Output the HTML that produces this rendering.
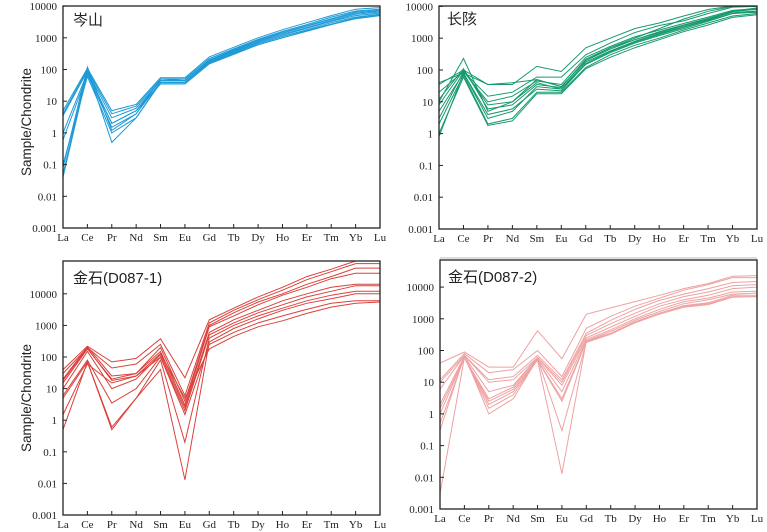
<!DOCTYPE html>
<html><head><meta charset="utf-8">
<style>
html,body{margin:0;padding:0;background:#fff;}
svg{display:block;}
text{font-family:"Liberation Serif","Noto Serif CJK SC",serif;fill:#222;}
.cn{font-family:"Liberation Sans","Noto Sans CJK SC",sans-serif;}
</style></head>
<body>
<svg id="chart" width="767" height="532" viewBox="0 0 767 532"></svg>
<script>
const categories = ["La","Ce","Pr","Nd","Sm","Eu","Gd","Tb","Dy","Ho","Er","Tm","Yb","Lu"];
const tickLabels = ["0.001","0.01","0.1","1","10","100","1000","10000"];
const tickValues = [0.001,0.01,0.1,1,10,100,1000,10000];
const titles = ["岑山","长陔","金石(D087-1)","金石(D087-2)"];

const cenSeries = [
[5,110,5,8,55,55,250,500,1000,1800,3000,5000,8000,9000],
[4,100,4,7,50,50,220,450,900,1600,2600,4500,7000,8000],
[3.5,90,3,6,45,45,200,400,800,1400,2300,3800,6000,7000],
[1,80,2,5,45,45,190,380,750,1300,2100,3500,5500,6500],
[0.6,70,1.5,4,40,40,180,360,700,1200,2000,3300,5000,6000],
[0.1,60,1,3,40,40,170,340,650,1100,1800,3000,4500,5500],
[0.05,100,0.5,3,38,38,160,320,600,1000,1700,2700,4200,5200],
[0.04,80,2,5,35,35,150,300,600,1000,1600,2600,4000,5000],
[0.08,120,1.2,4,50,45,200,420,850,1500,2400,4000,6500,7500]
];
const changSeries = [
[35,100,35,40,50,30,200,500,1000,2000,4000,7000,10000,12000],
[40,80,35,35,130,90,500,1000,2000,3000,5000,8000,12000,12000],
[20,90,15,20,60,60,300,700,1500,2500,3500,6000,9500,10000],
[10,230,5,10,50,30,200,450,900,1600,2600,4200,7000,8000],
[8,100,8,10,40,25,180,400,800,1400,2300,3800,6500,7000],
[5,80,3,5,30,25,150,350,700,1200,2000,3400,6000,6500],
[2,70,2,3,20,20,120,300,600,1000,1800,3000,5000,6000],
[1,60,1.8,2.5,18,18,110,250,500,900,1600,2600,4500,5500],
[0.8,80,4,6,25,22,160,380,750,1300,2200,3600,6000,7000],
[12,110,6,8,35,28,220,500,900,1500,2500,4000,7000,9000],
[3,90,10,15,45,35,250,550,1100,1800,2900,4600,7500,8500]
];
const jin1Series = [
[40,220,70,90,380,22,1500,3500,8000,16000,35000,60000,110000,110000],
[30,200,45,60,250,6,1200,3000,6500,13000,28000,50000,90000,90000],
[20,210,25,30,200,4,1000,2500,5500,10000,20000,35000,65000,65000],
[15,180,20,30,150,3,900,2000,4500,9000,16000,30000,45000,45000],
[10,150,10,20,120,2.5,600,1500,3000,6000,10000,16000,20000,20000],
[6,80,3.5,10,100,2,500,1200,2500,4500,8000,12000,18000,18000],
[5,70,0.6,5,80,0.2,400,1000,2000,3500,6000,9000,12000,12000],
[0.5,70,0.5,5,40,0.013,300,800,1600,3000,5000,7000,10000,10000],
[1.5,60,15,25,100,1.5,250,600,1200,2000,3200,5000,6000,6000],
[18,190,18,25,130,5,180,450,900,1400,2400,3800,5000,5500]
];
const jin2Series = [
[40,90,30,30,420,55,1400,2200,3500,5500,9000,13000,22000,23000],
[12,80,20,25,100,15,500,1200,2500,4500,8000,12000,20000,20000],
[10,70,12,15,70,12,350,900,2000,3800,6000,9000,14000,15000],
[6,70,10,12,60,10,300,700,1500,3000,5000,7000,11000,12000],
[2,65,5,8,60,8,250,550,1200,2500,4000,5500,9000,10000],
[1.5,60,3,7,55,5,220,450,1000,2000,3500,4500,7000,7500],
[1,60,2.5,6,50,3,200,400,900,1700,3000,4000,6000,6500],
[0.5,60,2,5,50,2.5,190,350,800,1500,2500,3000,5000,5000],
[0.3,70,1,3,55,0.3,180,330,750,1400,2300,2800,4800,5000],
[0.003,60,1.5,4,50,0.013,200,350,800,1500,2600,3200,5500,5500]
];

const NS="http://www.w3.org/2000/svg";
const svg=document.getElementById('chart');
function mk(tag,attrs,parent){const e=document.createElementNS(NS,tag);for(const k in attrs)e.setAttribute(k,attrs[k]);(parent||svg).appendChild(e);return e;}

const panels=[
 {series:cenSeries,color:"#1d9ad6",l:63,r:380,b:228,dec:31.7,top:6,ylab:true,tx:73,ty:25,xl:241,key:"cen"},
 {series:changSeries,color:"#169a6c",l:439,r:757,b:229,dec:31.8,top:6,ylab:false,tx:447,ty:24,xl:242,key:"chang"},
 {series:jin1Series,color:"#d9413b",l:63,r:380,b:515,dec:31.6,top:261,ylab:true,tx:73,ty:283,xl:528,key:"jin1"},
 {series:jin2Series,color:"#eea2a2",l:440,r:757,b:509,dec:31.7,top:260,ylab:false,tx:448,ty:282,xl:522,key:"jin2"}
];

panels.forEach((p,pi)=>{
 const g=mk('g',{});
 
 
 const x=i=>p.l+i*(p.r-p.l)/(categories.length-1);
 const y=v=>p.b-(Math.log10(v)+3)*p.dec;
 // series
 p.series.forEach((s,si)=>{
  const d=s.map((v,i)=>(i?'L':'M')+x(i).toFixed(1)+','+Math.max(p.top,y(v)).toFixed(1)).join('');
  const path=mk('path',{d:d,fill:'none',stroke:p.color,'stroke-width':1},g);
  
  
 });
 // frame
 const fr=mk('rect',{x:p.l,y:p.top,width:p.r-p.l,height:p.b-p.top,fill:'none',stroke:'#222','stroke-width':1.3},g);
 
 
 // y ticks
 tickValues.forEach((v,i)=>{
  const yy=y(v);
  mk('line',{x1:p.l,x2:p.l+4,y1:yy,y2:yy,stroke:'#222'},g);
  const t=mk('text',{x:p.l-6,y:yy+4,'text-anchor':'end','font-size':11},g);
  t.textContent=tickLabels[i];
  
  
 });
 // x ticks
 categories.forEach((c,i)=>{
  mk('line',{x1:x(i),x2:x(i),y1:p.b,y2:p.b-4,stroke:'#222'},g);
  const t=mk('text',{x:x(i),y:p.xl,'text-anchor':'middle','font-size':11},g);
  t.textContent=c;
  
  
 });
 const tt=mk('text',{x:p.tx,y:p.ty,'font-size':15,class:'cn'},g);
 tt.textContent=titles[pi];
 
 
 if(p.ylab){
  const cy=(p.top+p.b)/2+ (pi===2?10:5);
  const yt=mk('text',{x:0,y:0,'font-size':13.5,class:'cn','text-anchor':'middle',transform:'translate(31,'+cy+') rotate(-90)'},g);
  yt.textContent='Sample/Chondrite';
  
  
 }
});
const sep=mk('line',{x1:440,x2:757,y1:258,y2:258,stroke:'#bbb','stroke-width':1});


</script>
</body></html>
